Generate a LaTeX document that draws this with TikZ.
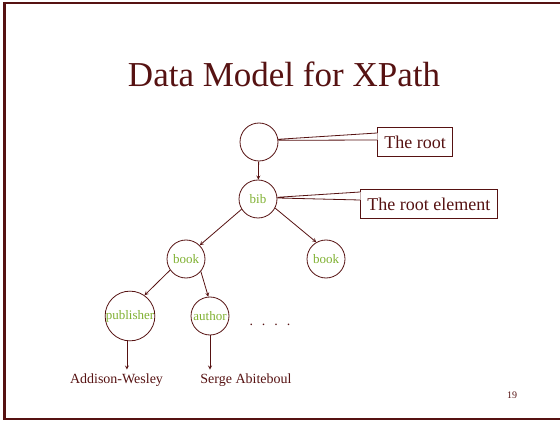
\documentclass[tikz,border=0pt]{standalone}
\usepackage{fontspec}
\setmainfont{Liberation Serif}
\definecolor{maroon}{HTML}{561212}
\definecolor{leaf}{HTML}{7FB031}
\tikzset{>=stealth}
\tikzset{
    elem/.style={circle, draw=maroon, minimum size=38pt, inner sep=0pt, text=leaf, font=\fontsize{13}{13}\selectfont},
    callout/.style={draw=maroon, text=maroon, font=\fontsize{18}{18}\selectfont, inner xsep=7pt, minimum height=29pt, fill=white},
    value/.style={text=maroon, font=\fontsize{14}{14}\selectfont, anchor=base}
}

\begin{document}
\begin{tikzpicture}[x=1pt, y=-1pt, line width=0.8pt, draw=maroon]
    \useasboundingbox (0,0) rectangle (560,422);
    \draw[maroon, line width=2.8pt] (575,3) -- (4.5,3) -- (4.5,419) -- (575,419);
    \node[text=maroon, font=\fontsize{35}{35}\selectfont, anchor=base] (title) at (284,87) {Data Model for XPath};
    % the tree
    \node[elem] (root) at (259,142) {};
    \node[elem] (bib) at (258,199) {bib};
    \node[elem] (book1) at (186,259) {book};
    \node[elem] (book2) at (326,259) {book};
    \node[elem] (pub) at (130,316) {publisher};
    \node[elem] (auth) at (210,316) {author};
    \node[value] (aw) at (116.5,383) {Addison-Wesley};
    \node[value] (sa) at (246,383) {Serge Abiteboul};
    \node[text=maroon, font=\fontsize{14}{14}\selectfont, anchor=base] (dots) at (270,326) {.\hspace{9pt}.\hspace{9pt}.\hspace{9pt}.};
    \draw[->] (root) -- (bib);
    \draw[->] (bib.212) -- (book1.45);
    \draw[->] (bib.-28) -- (book2.120);
    \draw[->] (book1.215) -- (pub.55);
    \draw[->] (book1.-40) -- (auth.95);
    \draw[->] (pub.263) -- (pub.263 |- aw.north);
    \draw[->] (auth) -- (auth |- sa.north);
    % callouts
    \node[callout, anchor=north west] (rootbox) at (377,127) {The root};
    \node[callout, anchor=north west] (elembox) at (360,189) {The root element};
    \fill[white] (root.8) -- ([xshift=0.6pt, yshift=-6pt]rootbox.north west) -- ([xshift=0.6pt, yshift=-13pt]rootbox.north west) -- (root.5) -- cycle;
    \draw (root.8) -- ([yshift=-6pt]rootbox.north west) (root.5) -- ([yshift=-13pt]rootbox.north west);
    \fill[white] (bib.5) -- ([xshift=0.6pt, yshift=-3pt]elembox.north west) -- ([xshift=0.6pt, yshift=-11pt]elembox.north west) -- (bib.3) -- cycle;
    \draw (bib.5) -- ([yshift=-3pt]elembox.north west) (bib.3) -- ([yshift=-11pt]elembox.north west);
    \node[text=maroon, font=\fontsize{10}{10}\selectfont] (page) at (512,395) {19};
\end{tikzpicture}
\end{document}
